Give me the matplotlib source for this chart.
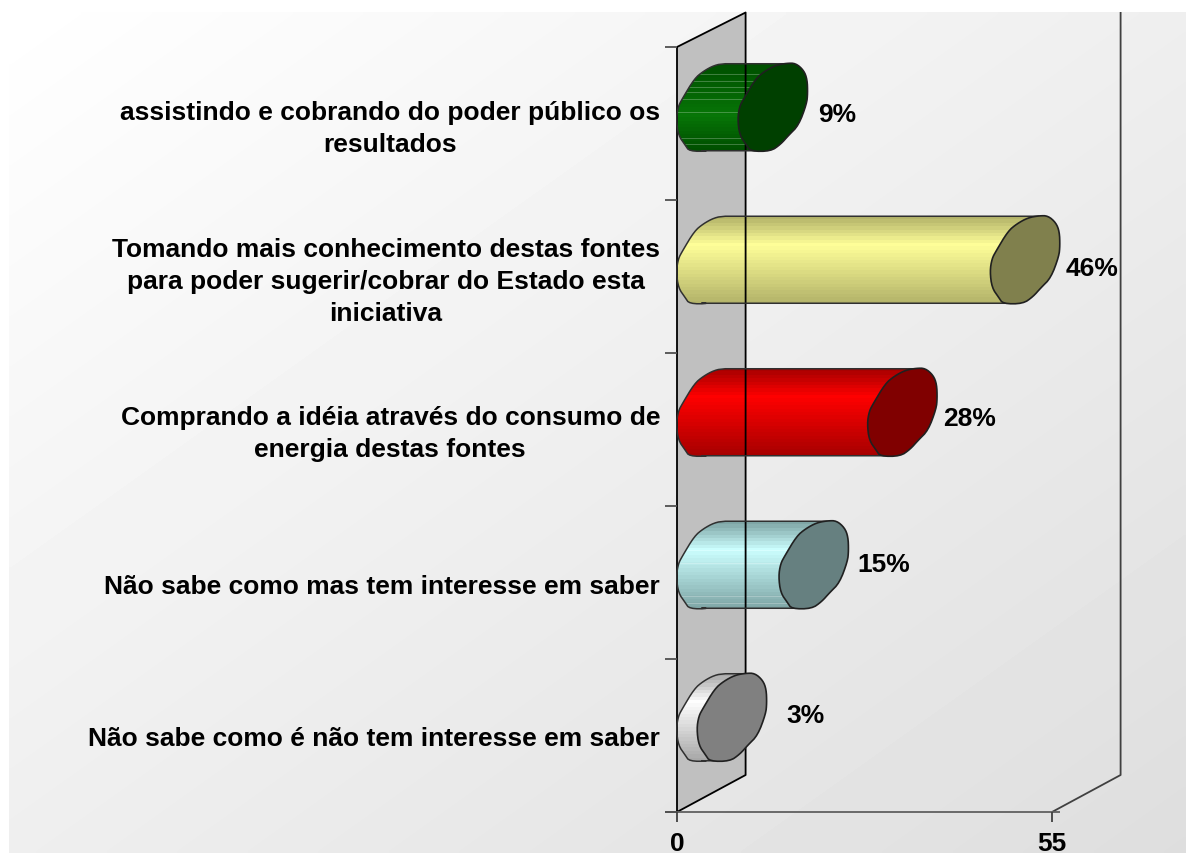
import numpy as np
import matplotlib
matplotlib.use("Agg")
import matplotlib.pyplot as plt
from matplotlib.patches import Polygon
from matplotlib.colors import LinearSegmentedColormap

labels = [
    "assistindo e cobrando do poder público os\nresultados",
    "Tomando mais conhecimento destas fontes\npara poder sugerir/cobrar do Estado esta\niniciativa",
    "Comprando a idéia através do consumo de\nenergia destas fontes",
    "Não sabe como mas tem interesse em saber",
    "Não sabe como é não tem interesse em saber",
]
values = [9, 46, 28, 15, 3]
value_text = ["9%", "46%", "28%", "15%", "3%"]
x_ticks = [0, 55]

body_dark = ["#004f00", "#b4b46a", "#a80000", "#7fa6a6", "#a8a8a8"]
body_light = ["#077607", "#ffff99", "#ff0000", "#ccffff", "#ffffff"]
body_peak = [0.6, 0.32, 0.32, 0.32, 0.32]
cap_colors = ["#004000", "#80804d", "#800000", "#668080", "#808080"]

# hand placed label nudges, pixels from the bar end
label_dx = [65, 67, 67, 70, 74]
label_dy = [6.5, 8, 5.5, -0.5, -2.5]

# light streaks on the green and cyan bars, as fraction of bar height
streaks = {0: [0.12, 0.2, 0.27, 0.33, 0.41, 0.55, 0.85, 0.92], 3: [0.33, 0.48, 0.86, 0.93]}

W, H = 1186, 854
X0, Y0 = 677, 813      # pixel of value 0 on the floor front
PX_X = 375 / 55        # pixels per value unit
PX_Y = 152.5           # pixels per category
TICK_STEP = 153
DX, DY = 68.6, -37     # depth of the chart box
FONT = "Liberation Sans"

# rough outline of the cut end, pixels around its centre
cap_x = [3, 14, 23, 31, 34.5, 35, 34, 26, 16, 8, -2, -22, -26, -33, -35, -33, -29, -17, -8, 3]
cap_y = [-42, -44, -44, -37, -28, -14, -3.5, 18, 28, 37, 44, 44, 38, 28, 11.5, -1, -8.5, -28.5, -36, -42]


def smooth(xs, ys, rounds=2):
    pts = np.column_stack([xs, ys])[:-1]
    for _ in range(rounds):
        nxt = np.roll(pts, -1, axis=0)
        pts = np.column_stack([0.75 * pts + 0.25 * nxt, 0.25 * pts + 0.75 * nxt]).reshape(-1, 2)
    return pts


cap_pts = smooth(cap_x, cap_y)

# part of the outline that shows at the start of a bar: bottom, round the left, to the top
is_left = (cap_pts[:, 0] < -4) | ((cap_pts[:, 0] < 8) & (cap_pts[:, 1] < 0))
first = next(k for k in range(len(cap_pts)) if is_left[k] and not is_left[k - 1])
rolled = np.roll(cap_pts, -first, axis=0)
start_pts = rolled[:int(is_left.sum())]

fig = plt.figure(figsize=(W / 100, H / 100), dpi=100)
ax = fig.add_axes([0, 0, 1, 1])
ax.axis("off")


def px(x, y):
    return (x - X0) / PX_X, (Y0 - y) / PX_Y


def line(xs, ys, color="black", lw=1.3, z=3):
    p = [px(a, b) for a, b in zip(xs, ys)]
    return ax.plot([q[0] for q in p], [q[1] for q in p], color=color, lw=lw,
                   solid_capstyle="butt", zorder=z)[0]


# background
gx, gy = np.meshgrid(np.linspace(0, 1, 300), np.linspace(0, 1, 200))
grad = 1.0 - 0.13 * (0.5 * gx + 0.5 * gy)
l, b = px(9, 854)
r, t = px(W, 13)
ax.imshow(grad, cmap="gray", vmin=0, vmax=1, extent=[l, r, b, t],
          aspect="auto", zorder=0, interpolation="bilinear")

# side wall
wall = [px(X0, 48), px(X0 + DX, 13.5), px(X0 + DX, Y0 + DY), px(X0, Y0)]
ax.add_patch(Polygon(wall, closed=True, fc="#c0c0c0", ec="none", zorder=1))
line([X0, X0 + DX, X0 + DX, X0, X0], [48, 13.5, Y0 + DY, Y0, 48])
line([X0 + 375, X0 + 375 + DX, X0 + 375 + DX], [Y0, Y0 + DY, 13], color="#404040")

# axis lines and ticks
line([665, 1060], [Y0, Y0], color="#606060")
for i in range(len(values) + 1):
    line([665, X0], [Y0 - i * TICK_STEP, Y0 - i * TICK_STEP], color="#505050")
for v in x_ticks:
    tx = X0 + v * PX_X
    line([tx, tx], [Y0, 823], color="#404040")
    ax.text(v, px(0, 844)[1], str(v), ha="center", va="center",
            fontsize=19, fontweight="bold", family=FONT, zorder=5)

# bars
n = len(values)
for i, v in enumerate(values):
    cat = n - i - 0.5
    sx, sy = X0 + v * PX_X + DX / 2, Y0 - cat * PX_Y + DY / 2
    sx0 = X0 + DX / 2

    # end cap tangents, then back round the start of the bar
    body = [(sx + 14, sy - 43.5), (sx - 10, sy + 43.5), (sx0 - 10, sy + 43.5)]
    body += [(sx0 + a, sy + c) for a, c in start_pts]
    body += [(sx0 + 14, sy - 43.5)]
    body_poly = Polygon([px(a, c) for a, c in body], closed=True, fc="none",
                        ec="#303030", lw=1.1, zorder=3)
    cmap = LinearSegmentedColormap.from_list(
        "bar", [(0, body_dark[i]), (body_peak[i], body_light[i]), (1, body_dark[i])])
    shade = np.linspace(0, 1, 26).reshape(-1, 1)
    l, t = px(sx0 - 36, sy - 44)
    r, b = px(sx + 15, sy + 44)
    im = ax.imshow(shade, cmap=cmap, extent=[l, r, b, t], aspect="auto",
                   interpolation="nearest", zorder=2)
    ax.add_patch(body_poly)
    im.set_clip_path(body_poly)
    for f in streaks.get(i, []):
        sl = line([sx0 - 36, sx + 15], [sy - 44 + 88 * f] * 2,
                  color="white", lw=0.7, z=2.5)
        sl.set_alpha(0.25)
        sl.set_clip_path(body_poly)

    cap = Polygon([px(sx + a, sy + c) for a, c in cap_pts], closed=True,
                  fc=cap_colors[i], ec="#202020", lw=1.2, zorder=4)
    ax.add_patch(cap)

    tx, ty = px(sx + label_dx[i], sy + label_dy[i])
    ax.text(tx, ty, value_text[i], ha="center", va="center", fontsize=19,
            fontweight="bold", family=FONT, zorder=5)

    # category label sits against the axis, centred on the bar row
    lx, ly = px(660, Y0 - cat * PX_Y + 2.5)
    ax.text(lx, ly, labels[i], ha="right", va="center", multialignment="center",
            fontsize=19, fontweight="bold", family=FONT, linespacing=1.42, zorder=5)

ax.set_xlim(-X0 / PX_X, (W - X0) / PX_X)
ax.set_ylim((Y0 - H) / PX_Y, Y0 / PX_Y)
fig.savefig("out.png", dpi=100, facecolor="white")
